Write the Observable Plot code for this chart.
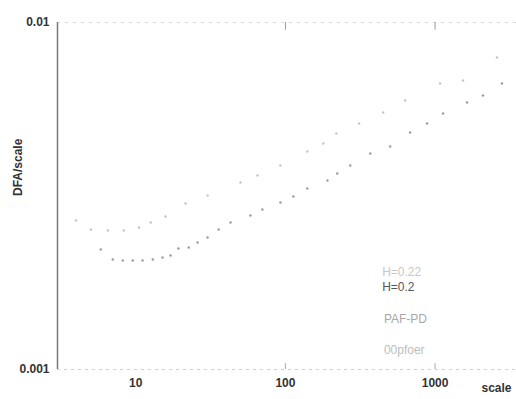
<!DOCTYPE html>
<html>
<head>
<meta charset="utf-8">
<script src="https://cdn.jsdelivr.net/npm/d3@7"></script>
<script src="https://cdn.jsdelivr.net/npm/@observablehq/plot@0.6"></script>
<style>
  html, body { margin: 0; padding: 0; background: #fff; }
  #chart { width: 516px; height: 399px; }
</style>
</head>
<body>
<div id="chart"></div>
<script>
// Lower series (darker dots)
const lowerScale = [5.84, 7.02, 8.19, 9.55, 11.1, 13.0, 15.1, 17.1, 19.3, 22.6, 25.9, 30.2, 35.8, 43.0, 58.4, 70.2, 92.6, 113, 140, 191, 222, 271, 369, 501, 681, 885, 1131, 1634, 2089, 2797];
const lowerDFA = [0.002217, 0.002075, 0.002061, 0.002061, 0.002061, 0.002075, 0.002103, 0.002131, 0.002232, 0.002247, 0.002323, 0.002401, 0.002532, 0.002652, 0.002778, 0.002891, 0.003029, 0.003151, 0.003324, 0.003505, 0.003671, 0.003871, 0.004194, 0.004392, 0.004819, 0.005117, 0.005468, 0.005883, 0.006161, 0.006673];

// Upper series (fainter dots)
const upperScale = [3.98, 5.01, 6.51, 8.32, 10.5, 12.6, 15.8, 21.5, 30.2, 50.1, 65.1, 92.6, 140, 179, 219, 311, 450, 631, 1080, 1537, 2591];
const upperDFA = [0.002687, 0.002532, 0.002515, 0.002515, 0.002566, 0.002652, 0.002760, 0.003008, 0.003172, 0.003458, 0.003623, 0.003871, 0.004250, 0.004480, 0.004786, 0.005117, 0.005504, 0.005961, 0.006673, 0.006807, 0.007928];

// Axis ticks
const xTicks = [10, 100, 1000];
const xTickLabels = ["10", "100", "1000"];
const yTicks = [0.001, 0.01];
const yTickLabels = ["0.001", "0.01"];

// In-plot annotations
const noteText = ["H=0.22", "H=0.2", "PAF-PD", "00pfoer"];
const noteScale = [443, 443, 455, 455];
const noteDFA = [0.001903, 0.001723, 0.001393, 0.001134];
const noteColor = ["#c8c8c8", "#555555", "#a8a8a8", "#bdbdbd"];

const lower = lowerScale.map((s, i) => ({scale: s, dfa: lowerDFA[i]}));
const upper = upperScale.map((s, i) => ({scale: s, dfa: upperDFA[i]}));
const notes = noteText.map((t, i) => ({text: t, scale: noteScale[i], dfa: noteDFA[i], color: noteColor[i]}));

const chart = Plot.plot({
  width: 516,
  height: 399,
  marginLeft: 57,
  marginRight: 0,
  marginTop: 22,
  marginBottom: 30,
  style: {fontFamily: "'Liberation Sans', Arial, sans-serif", fontSize: "12px", color: "#333", background: "#fff"},
  x: {type: "log", domain: [3, 3500]},
  y: {type: "log", domain: [0.001, 0.01]},
  marks: [
    Plot.ruleY([0.01], {stroke: "#d8d8d8", strokeDasharray: "3,5"}),
    Plot.ruleY([0.001], {stroke: "#cfcfcf", strokeDasharray: "3,4"}),
    Plot.ruleX([100, 1000], {y1: 0.01, y2: 0.0095, stroke: "#999"}),
    Plot.ruleX([100, 1000], {y1: 0.001, y2: 0.00104, stroke: "#aaa"}),
    Plot.ruleX([3], {stroke: "#7a7a7a", strokeWidth: 1.5}),
    Plot.axisX({ticks: xTicks, tickFormat: (d) => xTickLabels[xTicks.indexOf(d)], tickSize: 0, tickPadding: 9, fontWeight: "bold", fontSize: 12, fill: "#333", label: null}),
    Plot.axisY({ticks: yTicks, tickFormat: (d) => yTickLabels[yTicks.indexOf(d)], tickSize: 0, tickPadding: 8, fontWeight: "bold", fontSize: 12, fill: "#333", label: null}),
    Plot.dot(upper, {x: "scale", y: "dfa", r: 1.2, fill: "#c4c4c4", stroke: null}),
    Plot.dot(lower, {x: "scale", y: "dfa", r: 1.2, fill: "#9a9a9a", stroke: null}),
    Plot.text(notes, {x: "scale", y: "dfa", text: "text", fill: "color", textAnchor: "start", fontSize: 12}),
    Plot.text(["DFA/scale"], {frameAnchor: "left", dx: -39, rotate: -90, fontWeight: "bold", fontSize: 12, fill: "#333"}),
    Plot.text(["scale"], {frameAnchor: "bottom-right", dx: -5, dy: 22, textAnchor: "end", fontWeight: "bold", fontSize: 12, fill: "#333"})
  ]
});
document.getElementById("chart").append(chart);
</script>
</body>
</html>
